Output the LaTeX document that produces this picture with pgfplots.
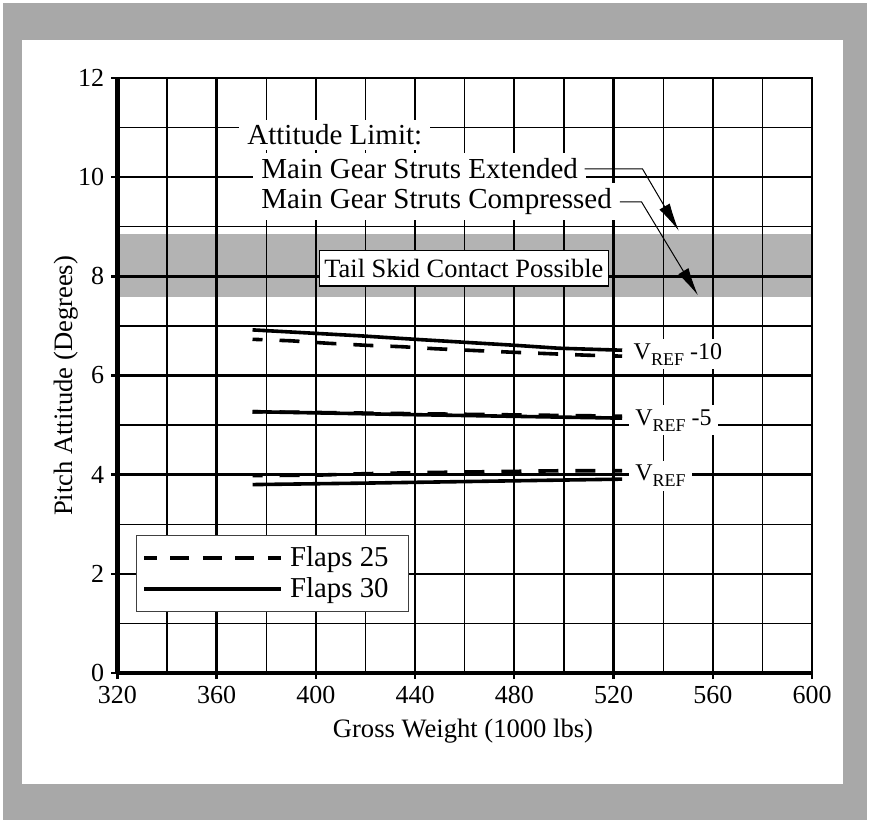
\documentclass[border=0pt]{standalone}
\usepackage{fontspec}
\setmainfont{Liberation Serif}
\usepackage{pgfplots}
\pgfplotsset{compat=1.18}
\usetikzlibrary{arrows.meta}
\definecolor{framegray}{HTML}{A8A8A8}
\definecolor{bandgray}{HTML}{B3B3B3}
\begin{document}
\begin{tikzpicture}
% 1 px of the reference = 0.5pt; origin = lower left corner of the axis
\fill[white] (-58.65pt,-73.5pt) rectangle (376.35pt,336.5pt);
\fill[framegray] (-57.15pt,-73.5pt) rectangle (374.85pt,335pt);
\fill[white] (-47.65pt,-55.5pt) rectangle (362.85pt,316.5pt);
\pgfplotsset{common/.style={width=347.35pt,height=297.5pt,scale only axis,
  at={(0pt,0pt)},anchor=south west,xmin=320,xmax=600,ymin=0,ymax=12}}
\begin{axis}[common, hide axis]
\addplot[fill=bandgray, draw=none] coordinates {(320,7.58) (600,7.58) (600,8.85) (320,8.85)} -- cycle;
\end{axis}
\begin{axis}[common,
  xtick={320,360,...,600}, minor xtick={340,380,...,580},
  ytick={0,2,...,12}, minor ytick={1,3,...,11},
  grid=both,
  major grid style={line width=1.2pt,black},
  minor grid style={line width=0.6pt,black},
  axis line style={line width=1.35pt,black},
  tick pos=left, tick align=outside,
  major tick length=3pt, minor tick length=0pt,
  tick style={line width=1.2pt,black},
  /pgf/number format/assume math mode=true,
  ticklabel style={font=\fontsize{13}{15}\selectfont},
  xlabel={Gross Weight (1000 lbs)}, ylabel={Pitch Attitude (Degrees)},
  label style={font=\fontsize{13.3}{16}\selectfont},
  xlabel style={at={(axis description cs:0.4976,-0.1076)}, anchor=base},
  ylabel style={at={(axis description cs:-0.0652,0.4824)}, anchor=base},
  clip=false,
  legend image code/.code={\draw[#1] (0pt,0pt) -- (68.5pt,0pt);},
  legend cell align=left,
  legend style={at={(axis description cs:0.0269,0.2319)}, anchor=north west,
    draw=black!75, line width=0.6pt, fill=white,
    font=\fontsize{14.4}{16}\selectfont, inner xsep=3pt, inner ysep=4.5pt,
    row sep=2pt, column sep=2.5pt, nodes={inner sep=1pt}},
]
\addlegendimage{line width=1.8pt, dash pattern=on 9.5pt off 6.75pt, dash phase=3.2pt}
\addlegendentry{Flaps 25\kern6pt\null}
\addlegendimage{line width=1.8pt}
\addlegendentry{Flaps 30\kern6pt\null}

% V_REF -10
\addplot[forget plot, line width=1.8pt, dash pattern=on 10pt off 8.5pt, dash phase=5pt]
  coordinates {(374.5,6.73)(390,6.70)(405,6.65)(420,6.61)(435,6.58)(448,6.54)(479,6.47)(509,6.41)(523.5,6.39)};
\addplot[forget plot, line width=1.8pt]
  coordinates {(374.5,6.92)(418,6.80)(440,6.73)(480,6.61)(498,6.55)(523.5,6.51)};
% V_REF -5
\addplot[forget plot, line width=1.8pt, dash pattern=on 10pt off 8.5pt, dash phase=5pt]
  coordinates {(374.5,5.27)(440,5.23)(523.5,5.18)};
\addplot[forget plot, line width=1.8pt]
  coordinates {(374.5,5.27)(440,5.21)(523.5,5.14)};
% V_REF
\addplot[forget plot, line width=1.8pt, dash pattern=on 10pt off 8.5pt, dash phase=5pt]
  coordinates {(374.5,3.98)(400,3.99)(420,4.02)(440,4.04)(470,4.06)(500,4.08)(523.5,4.08)};
\addplot[forget plot, line width=1.8pt]
  coordinates {(374.5,3.80)(420,3.83)(523.5,3.91)};

% thick left and bottom axis lines
\draw[line width=2.4pt] (rel axis cs:0,1) -- (rel axis cs:0,0);
\draw[line width=2pt] (rel axis cs:0,0) -- (rel axis cs:1,0);

% annotations
\begin{scope}[every node/.style={anchor=base west, fill=white, inner xsep=4pt, inner ysep=2.5pt, font=\fontsize{14.5}{16}\selectfont}]
\node at (axis cs:369.05,10.65) {Attitude Limit:};
\node at (axis cs:374.7,9.98) {Main Gear Struts Extended};
\node at (axis cs:374.7,9.37) {Main Gear Struts Compressed};
\end{scope}
\draw[line width=0.5pt, -{Latex[length=14pt,width=6pt]}]
  (axis cs:508.4,10.165) -- (axis cs:531.7,10.165) -- (axis cs:546.3,8.92);
\draw[line width=0.5pt, -{Latex[length=14pt,width=6pt]}]
  (axis cs:522.6,9.50) -- (axis cs:531.3,9.50) -- (axis cs:554.0,7.62);
\node[draw=black, line width=0.6pt, fill=white, inner xsep=2.5pt, inner ysep=4.2pt,
  font=\fontsize{13.2}{15}\selectfont] at (axis cs:459.7,8.16) {Tail Skid Contact Possible};

\begin{scope}[every node/.style={anchor=base west, fill=white, inner xsep=3pt, inner ysep=2pt, font=\fontsize{12}{14}\selectfont}]
\node at (axis cs:525.55,6.33) {V\raisebox{-3pt}{\fontsize{9}{10}\selectfont REF} -10};
\node at (axis cs:526.2,5.00) {V\raisebox{-3pt}{\fontsize{9}{10}\selectfont REF} -5};
\node at (axis cs:526.2,3.88) {V\raisebox{-3pt}{\fontsize{9}{10}\selectfont REF}};
\end{scope}
\end{axis}
\pgfresetboundingbox
\path[use as bounding box] (-58.65pt,-73.5pt) rectangle (376.35pt,336.5pt);
\end{tikzpicture}
\end{document}
